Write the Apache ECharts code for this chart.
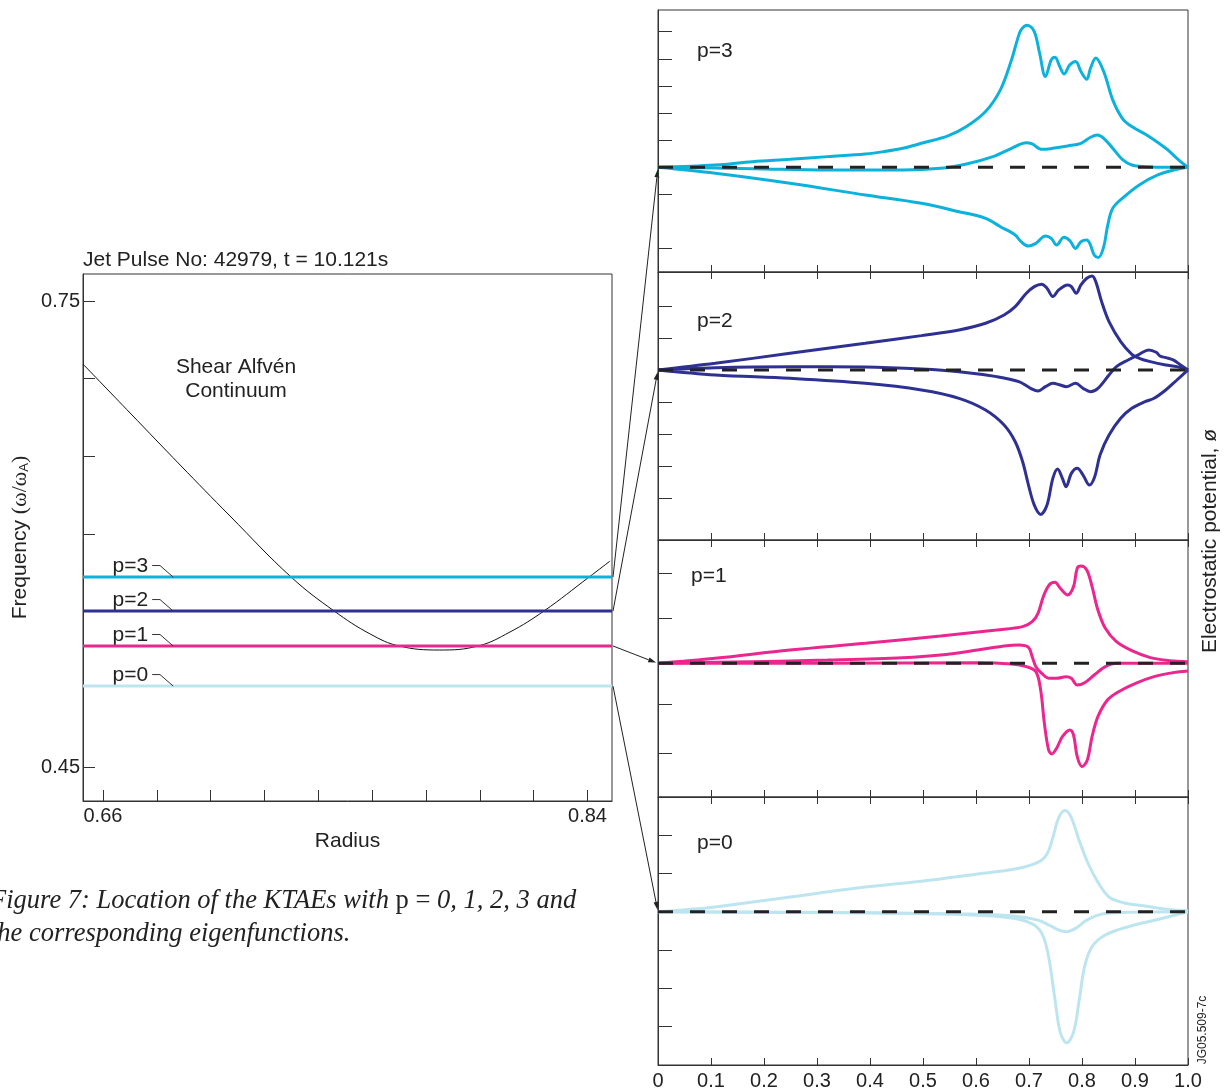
<!DOCTYPE html>
<html><head><meta charset="utf-8">
<script src="https://cdn.jsdelivr.net/npm/echarts@6/dist/echarts.min.js"></script>
<style>html,body{margin:0;padding:0;background:#fff}#c{width:1228px;height:1091px}</style>
</head><body><div id="c"></div>
<script>
// ---------- data ----------
const contR = [0.6526,0.6701,0.6887,0.7072,0.7299,0.7459,0.7593,0.7700,0.7849,0.7994,0.8112,0.8238,0.8406,0.8484];
const contF = [0.7094,0.6779,0.6444,0.6116,0.5723,0.5504,0.5356,0.5279,0.5253,0.5279,0.5369,0.5504,0.5723,0.5826];
const modeNames = ['p=3','p=2','p=1','p=0'];
const modeFreq = [0.5723,0.5504,0.5279,0.5021];
const freqTicks = [0.45,0.60,0.65,0.70,0.75];
const freqLabels = [0.45,0.75];
const radiusTicks = [0.66,0.68,0.70,0.72,0.74,0.76,0.78,0.80,0.82,0.84];
const radiusLabels = [0.66,0.84];

const p3Upper = [[0,0],[0.108,0.086],[0.178,0.209],[0.249,0.295],[0.320,0.394],[0.391,0.492],[0.426,0.578],[0.462,0.701],[0.497,0.886],[0.547,1.156],[0.582,1.501],[0.618,2.054],[0.646,2.854],[0.667,3.961],[0.678,4.699],[0.685,5.068],[0.697,5.240],[0.710,5.006],[0.720,4.207],[0.731,3.346],[0.742,3.961],[0.749,4.059],[0.758,3.715],[0.766,3.444],[0.777,3.776],[0.788,3.899],[0.798,3.530],[0.809,3.247],[0.816,3.653],[0.826,4.028],[0.841,3.530],[0.858,2.485],[0.876,1.808],[0.894,1.501],[0.922,1.193],[0.958,0.701],[0.986,0.209],[1,0]];
const p3Mid = [[0,0],[0.178,-0.049],[0.320,-0.098],[0.462,-0.098],[0.533,-0.037],[0.582,0.123],[0.632,0.394],[0.667,0.701],[0.695,0.910],[0.706,0.861],[0.724,0.664],[0.745,0.701],[0.773,0.787],[0.798,0.886],[0.816,1.107],[0.829,1.193],[0.841,1.070],[0.858,0.701],[0.876,0.295],[0.894,0.086],[0.922,0.025],[0.958,0],[1,0]];
const p3Low = [[0,0],[0.108,-0.221],[0.249,-0.590],[0.391,-1.021],[0.497,-1.328],[0.568,-1.636],[0.618,-1.882],[0.646,-2.190],[0.674,-2.497],[0.685,-2.743],[0.699,-2.903],[0.713,-2.805],[0.731,-2.534],[0.742,-2.620],[0.752,-2.866],[0.766,-2.583],[0.777,-2.706],[0.788,-2.989],[0.798,-2.743],[0.809,-2.681],[0.816,-2.866],[0.823,-3.235],[0.831,-3.321],[0.841,-2.927],[0.848,-2.190],[0.858,-1.513],[0.880,-1.082],[0.908,-0.652],[0.943,-0.283],[0.979,-0.074],[1,0]];

const p2Upper = [[0,0],[0.108,0.208],[0.249,0.521],[0.391,0.833],[0.497,1.073],[0.568,1.25],[0.618,1.458],[0.653,1.719],[0.674,1.979],[0.695,2.396],[0.710,2.604],[0.724,2.677],[0.734,2.552],[0.745,2.292],[0.756,2.5],[0.773,2.656],[0.780,2.604],[0.789,2.396],[0.798,2.656],[0.809,2.865],[0.819,2.938],[0.826,2.760],[0.837,2.135],[0.851,1.510],[0.873,0.885],[0.894,0.490],[0.908,0.365],[0.929,0.260],[0.958,0.156],[0.979,0.104],[1,0]];
const p2Mid = [[0,0],[0.108,0.073],[0.249,0.104],[0.391,0.094],[0.497,0.031],[0.568,-0.052],[0.639,-0.208],[0.681,-0.365],[0.703,-0.573],[0.717,-0.656],[0.731,-0.521],[0.745,-0.417],[0.759,-0.469],[0.770,-0.521],[0.788,-0.417],[0.802,-0.573],[0.816,-0.677],[0.830,-0.573],[0.851,-0.156],[0.865,0.104],[0.887,0.313],[0.908,0.490],[0.926,0.625],[0.940,0.552],[0.947,0.438],[0.958,0.385],[0.972,0.313],[0.986,0.156],[1,0]];
const p2Low = [[0,0],[0.108,-0.156],[0.249,-0.260],[0.391,-0.417],[0.497,-0.625],[0.568,-0.885],[0.618,-1.25],[0.653,-1.719],[0.674,-2.240],[0.688,-2.865],[0.699,-3.594],[0.710,-4.219],[0.722,-4.510],[0.734,-4.219],[0.745,-3.385],[0.754,-3.094],[0.763,-3.385],[0.770,-3.646],[0.780,-3.229],[0.791,-3.073],[0.802,-3.281],[0.814,-3.594],[0.824,-3.333],[0.834,-2.656],[0.851,-2.031],[0.873,-1.510],[0.894,-1.198],[0.919,-0.990],[0.936,-0.885],[0.958,-0.625],[0.979,-0.313],[1,0]];

const p1Upper = [[0,0],[0.108,0.111],[0.249,0.296],[0.391,0.444],[0.533,0.607],[0.639,0.741],[0.688,0.815],[0.706,0.926],[0.717,1.111],[0.727,1.481],[0.738,1.741],[0.749,1.8],[0.759,1.667],[0.773,1.519],[0.784,1.704],[0.791,2.111],[0.798,2.163],[0.809,2.074],[0.819,1.704],[0.830,1.185],[0.844,0.778],[0.865,0.481],[0.894,0.281],[0.929,0.126],[0.965,0.059],[1,0.037]];
const p1Mid = [[0,0],[0.178,0.037],[0.320,0.074],[0.462,0.126],[0.533,0.185],[0.603,0.296],[0.653,0.385],[0.681,0.407],[0.699,0.356],[0.706,0.148],[0.713,-0.074],[0.724,-0.222],[0.738,-0.333],[0.752,-0.333],[0.770,-0.296],[0.780,-0.333],[0.791,-0.481],[0.805,-0.430],[0.823,-0.259],[0.844,-0.074],[0.865,0],[1,0]];
const p1Low = [[0,0],[0.320,0],[0.603,0.015],[0.667,-0.015],[0.695,-0.074],[0.713,-0.185],[0.722,-0.593],[0.729,-1.333],[0.737,-1.926],[0.743,-2.015],[0.752,-1.889],[0.763,-1.630],[0.777,-1.481],[0.784,-1.593],[0.791,-2.074],[0.800,-2.296],[0.810,-2.148],[0.819,-1.630],[0.830,-1.185],[0.848,-0.815],[0.869,-0.630],[0.901,-0.444],[0.936,-0.296],[0.972,-0.207],[1,-0.170]];

const p0Upper = [[0,0],[0.108,0.129],[0.249,0.388],[0.391,0.647],[0.497,0.802],[0.603,0.991],[0.674,1.121],[0.717,1.293],[0.734,1.509],[0.745,1.940],[0.756,2.457],[0.768,2.647],[0.780,2.457],[0.795,1.853],[0.812,1.250],[0.830,0.776],[0.851,0.388],[0.880,0.233],[0.922,0.147],[0.965,0.060],[1,0.026]];
const p0Mid = [[0,0],[0.391,-0.026],[0.603,-0.060],[0.674,-0.112],[0.717,-0.216],[0.738,-0.345],[0.756,-0.474],[0.771,-0.517],[0.788,-0.431],[0.809,-0.216],[0.837,-0.060],[0.873,-0.017],[1,0]];
const p0Low = [[0,0],[0.391,-0.026],[0.603,-0.086],[0.674,-0.172],[0.710,-0.345],[0.727,-0.647],[0.738,-1.250],[0.749,-2.284],[0.759,-3.147],[0.771,-3.422],[0.784,-3.147],[0.795,-2.284],[0.805,-1.422],[0.819,-0.905],[0.844,-0.603],[0.887,-0.388],[0.943,-0.198],[1,0]];

const panelCurves = [[p3Upper,p3Mid,p3Low],[p2Upper,p2Mid,p2Low],[p1Upper,p1Mid,p1Low],[p0Upper,p0Mid,p0Low]];
const panelYMin = [-3.86,-5.31,-2.97,-4];
const panelYMax = [5.8,3.06,2.74,3];
const panelTicks = [[5,4,3,2,1,-1,-3],[2,1,-1,-2,-3,-4],[2,1,-0.9,-2],[2,1,-1,-2,-3]];
const potTicks = [0,0.1,0.2,0.3,0.4,0.5,0.6,0.7,0.8,0.9,1.0];

// ---------- styling ----------
const FONT = 'Liberation Sans';
const INK = '#222';
const modeColors = ['#0db2dc','#2e3192','#ec268f','#bde5f0'];
const panelBoxes = [{top:10,height:262},{top:272,height:268},{top:540,height:257},{top:797,height:271}];

const grids = [{left:83, top:274, width:529, height:527, show:true, borderColor:'#333', borderWidth:1, backgroundColor:'transparent'}];
panelBoxes.forEach(b => grids.push({left:658, width:530, top:b.top, height:b.height, show:true, borderColor:'#333', borderWidth:1, backgroundColor:'transparent'}));

const xAxes = [{
  type:'value', gridIndex:0, min:0.6526, max:0.8491,
  axisLine:{onZero:false, lineStyle:{color:'#333'}},
  axisTick:{inside:true, length:11, customValues:radiusTicks, lineStyle:{color:'#333'}},
  axisLabel:{customValues:radiusLabels, formatter:v=>v.toFixed(2), fontFamily:FONT, fontSize:20, color:INK, margin:5},
  splitLine:{show:false},
  name:'Radius', nameLocation:'middle', nameGap:30, nameTextStyle:{fontFamily:FONT, fontSize:21, color:INK}
}];
for (let g=1; g<=4; g++) {
  xAxes.push({
    type:'value', gridIndex:g, min:0, max:1, interval:0.1, position:'bottom',
    axisLine:{onZero:false, lineStyle:{color:'#333'}},
    axisTick:{inside:true, length:7, customValues:potTicks, lineStyle:{color:'#333'}},
    axisLabel:{show:g===4, customValues:potTicks, formatter:v=>v===0?'0':v.toFixed(1), fontFamily:FONT, fontSize:20, color:INK, margin:6},
    splitLine:{show:false}
  });
}
for (let g=2; g<=4; g++) {
  xAxes.push({
    type:'value', gridIndex:g, min:0, max:1, interval:0.1, position:'top',
    axisLine:{show:false, onZero:false},
    axisTick:{inside:true, length:7, customValues:potTicks, lineStyle:{color:'#333'}},
    axisLabel:{show:false}, splitLine:{show:false}
  });
}

const yAxes = [{
  type:'value', gridIndex:0, min:0.4281, max:0.7674,
  axisLine:{onZero:false, lineStyle:{color:'#333'}},
  axisTick:{inside:true, length:12, customValues:freqTicks, lineStyle:{color:'#333'}},
  axisLabel:{customValues:freqLabels, formatter:v=>v.toFixed(2), fontFamily:FONT, fontSize:20, color:INK, margin:3},
  splitLine:{show:false},
  name:'{a|Frequency }{b|(ω/ω}{c|A}{b|)}', nameLocation:'middle', nameGap:52, nameRotate:90,
  nameTextStyle:{rich:{
    a:{fontFamily:FONT, fontSize:21, color:INK},
    b:{fontFamily:'Liberation Serif', fontSize:22, color:INK},
    c:{fontFamily:FONT, fontSize:13, color:INK, padding:[9,0,0,0]}
  }}
}];
for (let g=1; g<=4; g++) {
  yAxes.push({
    type:'value', gridIndex:g, min:panelYMin[g-1], max:panelYMax[g-1],
    axisLine:{onZero:false, lineStyle:{color:'#333'}},
    axisTick:{inside:true, length:14, customValues:panelTicks[g-1], lineStyle:{color:'#333'}},
    axisLabel:{show:false}, splitLine:{show:false}
  });
}

const series = [];
// continuum
series.push({type:'line', xAxisIndex:0, yAxisIndex:0, data:contR.map((r,i)=>[r,contF[i]]), smooth:0.4, symbol:'none', lineStyle:{color:'#111', width:1}, z:3});
// mode frequency levels
modeFreq.forEach((f,i) => {
  series.push({type:'line', xAxisIndex:0, yAxisIndex:0, data:[[0.6526,f],[0.8491,f]], symbol:'none', lineStyle:{color:modeColors[i], width:3}, z:4});
  series.push({type:'line', xAxisIndex:0, yAxisIndex:0, data:[[0.6783,f+0.0074],[0.6812,f+0.0074],[0.6861,f]], symbol:'none', lineStyle:{color:'#333', width:1}, z:4});
});
// eigenfunctions
panelCurves.forEach((curves,k) => {
  curves.forEach(c => {
    series.push({type:'line', xAxisIndex:k+1, yAxisIndex:k+1, data:c, smooth:0.35, symbol:'none', lineStyle:{color:modeColors[k], width:3}, z:3});
  });
  series.push({type:'line', xAxisIndex:k+1, yAxisIndex:k+1, data:[[0,0],[1,0]], symbol:'none', lineStyle:{color:INK, width:3, type:[15,17]}, z:5});
});

const textEls = [
  {type:'text', x:83, y:260, style:{text:'Jet Pulse No: 42979, t = 10.121s', fontFamily:FONT, fontSize:21, fill:INK, align:'left', verticalAlign:'middle'}},
  {type:'text', x:236, y:379, style:{text:'Shear Alfvén\nContinuum', fontFamily:FONT, fontSize:21, lineHeight:24, fill:INK, align:'center', verticalAlign:'middle'}},
  {type:'text', x:697, y:51, style:{text:'p=3', fontFamily:FONT, fontSize:21, fill:INK, verticalAlign:'middle'}},
  {type:'text', x:697, y:321, style:{text:'p=2', fontFamily:FONT, fontSize:21, fill:INK, verticalAlign:'middle'}},
  {type:'text', x:691, y:576, style:{text:'p=1', fontFamily:FONT, fontSize:21, fill:INK, verticalAlign:'middle'}},
  {type:'text', x:697, y:843, style:{text:'p=0', fontFamily:FONT, fontSize:21, fill:INK, verticalAlign:'middle'}},
  {type:'text', x:1210, y:541, rotation:Math.PI/2, style:{text:'Electrostatic potential, ø', fontFamily:FONT, fontSize:21, fill:INK, align:'center', verticalAlign:'middle'}},
  {type:'text', x:1203, y:1030, rotation:Math.PI/2, style:{text:'JG05.509-7c', fontFamily:FONT, fontSize:12, fill:INK, align:'center', verticalAlign:'middle'}},
  {type:'text', x:-10, y:918, style:{
    text:'{i|Figure 7: Location of the KTAEs with }{r|p = }{i|0, 1, 2, 3 and}\n{i|the corresponding eigenfunctions.}',
    align:'left', verticalAlign:'middle',
    rich:{
      i:{fontFamily:'Liberation Serif', fontStyle:'italic', fontSize:26.5, lineHeight:33, fill:INK},
      r:{fontFamily:'Liberation Serif', fontSize:26.5, lineHeight:33, fill:INK}
    }}}
];

const chart = echarts.init(document.getElementById('c'), null, {renderer:'canvas'});
chart.setOption({
  animation:false,
  backgroundColor:'#fff',
  grid:grids, xAxis:xAxes, yAxis:yAxes, series:series,
  graphic:textEls
});

// mode labels and link arrows, placed through the axes
const extra = [];
modeFreq.forEach((f,i) => {
  const lp = chart.convertToPixel({gridIndex:0}, [0.6783, f+0.0074]);
  extra.push({type:'text', x:lp[0]-4, y:lp[1]+1, style:{text:modeNames[i], fontFamily:FONT, fontSize:21, fill:INK, align:'right', verticalAlign:'middle'}});
  const a = chart.convertToPixel({gridIndex:0}, [0.8491, f]);
  const b = chart.convertToPixel({gridIndex:i+1}, [0, 0]);
  const dx=b[0]-a[0], dy=b[1]-a[1], L=Math.hypot(dx,dy), ux=dx/L, uy=dy/L;
  const tip=[b[0]-ux*2, b[1]-uy*2];
  const base=[tip[0]-ux*8, tip[1]-uy*8];
  const nx=-uy, ny=ux;
  extra.push({type:'line', shape:{x1:a[0]+1, y1:a[1], x2:base[0], y2:base[1]}, style:{stroke:'#222', lineWidth:1}});
  extra.push({type:'polygon', shape:{points:[tip,[base[0]+nx*2.5,base[1]+ny*2.5],[base[0]-nx*2.5,base[1]-ny*2.5]]}, style:{fill:'#222'}});
});
chart.setOption({graphic:textEls.concat(extra)});
</script></body></html>
